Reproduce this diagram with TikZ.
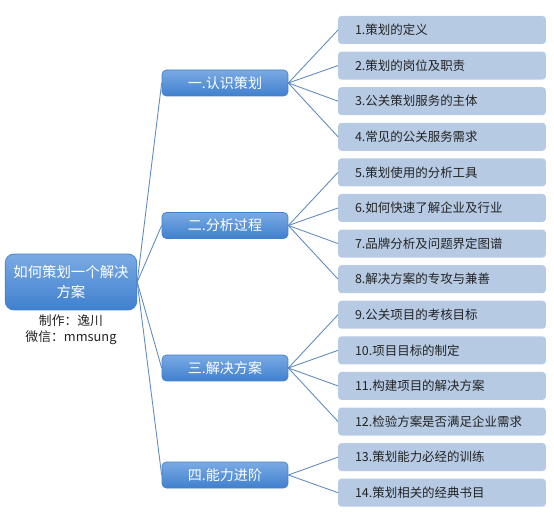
\documentclass[tikz,border=0pt]{standalone}
\usepackage{fontspec}
\setmainfont{Noto Sans CJK SC}
\usetikzlibrary{positioning}
\definecolor{TopBlue}{RGB}{122,170,228}
\definecolor{BotBlue}{RGB}{64,128,206}
\definecolor{PaleBlue}{RGB}{182,202,228}
\definecolor{LineBlue}{RGB}{98,138,188}
\definecolor{TextGray}{RGB}{35,35,35}

\begin{document}
\begin{tikzpicture}[
  x=0.02cm, y=-0.02cm,
  node distance=0.152cm,
  rootbox/.style={rectangle, rounded corners=5pt, top color=TopBlue,
                  bottom color=BotBlue, draw=BotBlue, minimum width=2.52cm,
                  minimum height=1.12cm, text width=2.4cm, align=center,
                  text=white, font=\fontsize{8.2}{11.3}\selectfont},
  topic/.style={rectangle, rounded corners=2.5pt, top color=TopBlue,
                bottom color=BotBlue, draw=BotBlue, minimum width=2.52cm,
                minimum height=0.52cm, inner ysep=0pt, text=white,
                font=\fontsize{8}{10}\selectfont},
  item/.style={rectangle, rounded corners=2pt, fill=PaleBlue, outer sep=0pt,
               minimum height=0.56cm, inner xsep=0.34cm, inner ysep=0pt,
               text width=3.48cm, align=left, text=TextGray,
               font=\fontsize{7.1}{9}\selectfont},
  link/.style={draw=LineBlue, line width=0.5pt}
]
\useasboundingbox (0,0) rectangle (554,523);

% Root and caption
\node[rootbox] (root) at (71,282) {如何策划一个解决\\方案};
\node[align=center, text=TextGray, font=\fontsize{7.3}{9.2}\selectfont,
      inner sep=0pt] (author) at (71,330) {制作：逸川\\微信：mmsung};

% Topics
\node[topic] (t1) at (225,83)    {一.认识策划};
\node[topic] (t2) at (225,225.5) {二.分析过程};
\node[topic] (t3) at (225,368)   {三.解决方案};
\node[topic] (t4) at (225,475)   {四.能力进阶};

% Items
\node[item] (s1) at (442,30)    {1.策划的定义};
\node[item, below=of s1]  (s2)  {2.策划的岗位及职责};
\node[item, below=of s2]  (s3)  {3.公关策划服务的主体};
\node[item, below=of s3]  (s4)  {4.常见的公关服务需求};
\node[item, below=of s4]  (s5)  {5.策划使用的分析工具};
\node[item, below=of s5]  (s6)  {6.如何快速了解企业及行业};
\node[item, below=of s6]  (s7)  {7.品牌分析及问题界定图谱};
\node[item, below=of s7]  (s8)  {8.解决方案的专攻与兼善};
\node[item, below=of s8]  (s9)  {9.公关项目的考核目标};
\node[item, below=of s9]  (s10) {10.项目目标的制定};
\node[item, below=of s10] (s11) {11.构建项目的解决方案};
\node[item, below=of s11] (s12) {12.检验方案是否满足企业需求};
\node[item, below=of s12] (s13) {13.策划能力必经的训练};
\node[item, below=of s13] (s14) {14.策划相关的经典书目};

% Links
\draw[link] (root.east) -- (t1.west);
\draw[link] (root.east) -- (t2.west);
\draw[link] (root.east) -- (t3.west);
\draw[link] (root.east) -- (t4.west);
\draw[link] (t1.east) -- (s1.west);
\draw[link] (t1.east) -- (s2.west);
\draw[link] (t1.east) -- (s3.west);
\draw[link] (t1.east) -- (s4.west);
\draw[link] (t2.east) -- (s5.west);
\draw[link] (t2.east) -- (s6.west);
\draw[link] (t2.east) -- (s7.west);
\draw[link] (t2.east) -- (s8.west);
\draw[link] (t3.east) -- (s9.west);
\draw[link] (t3.east) -- (s10.west);
\draw[link] (t3.east) -- (s11.west);
\draw[link] (t3.east) -- (s12.west);
\draw[link] (t4.east) -- (s13.west);
\draw[link] (t4.east) -- (s14.west);

\end{tikzpicture}
\end{document}
